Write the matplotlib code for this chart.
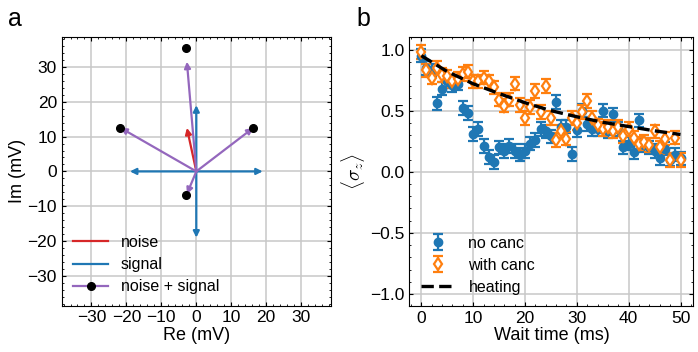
import numpy as np
import matplotlib
matplotlib.use("Agg")
import matplotlib.pyplot as plt
from matplotlib.lines import Line2D
from matplotlib.ticker import MultipleLocator

plt.rcParams['font.family'] = ['Liberation Sans', 'DejaVu Sans']
plt.rcParams['mathtext.fontset'] = 'cm'
plt.rcParams['xtick.direction'] = 'in'
plt.rcParams['ytick.direction'] = 'in'
plt.rcParams['xtick.top'] = True
plt.rcParams['ytick.right'] = True

# panel a: phasor picture (mV)
signal_re = [19, -19, 0, 0]
signal_im = [0, 0, 19, -19]
noise = (-2.7, 12.5)
sum_re = [16.3, -21.7, -2.7, -2.7]
sum_im = [12.5, 12.5, 31.5, -6.5]
meas_re = [16.2, -21.7, -3.0, -3.0]
meas_im = [12.4, 12.4, 35.4, -6.9]

# panel b: <sigma_z> vs wait time
t = np.arange(0, 51)
no_canc = [0.95, 0.85, 0.83, 0.56, 0.68, 0.74, 0.71, 0.72, 0.52, 0.48,
           0.31, 0.35, 0.21, 0.12, 0.08, 0.20, 0.17, 0.21, 0.17, 0.14,
           0.17, 0.23, 0.26, 0.35, 0.33, 0.29, 0.57, 0.37, 0.37, 0.145,
           0.34, 0.50, 0.39, 0.35, 0.35, 0.50, 0.33, 0.47, 0.35, 0.20,
           0.23, 0.16, 0.42, 0.22, 0.20, 0.17, 0.11, 0.19, 0.10, 0.14,
           0.11]
with_canc = [0.98, 0.83, 0.77, 0.85, 0.79, 0.78, 0.74, 0.76, 0.80, 0.82,
             0.74, 0.74, 0.77, 0.74, 0.69, 0.59, 0.54, 0.59, 0.72, 0.545,
             0.44, 0.53, 0.66, 0.49, 0.70, 0.44, 0.26, 0.33, 0.27, 0.44,
             0.40, 0.49, 0.58, 0.44, 0.38, 0.35, 0.37, 0.33, 0.37, 0.29,
             0.35, 0.28, 0.23, 0.245, 0.22, 0.33, 0.20, 0.27, 0.095, 0.28,
             0.095]
no_canc_err = 0.055
with_canc_err = 0.055
heat_t = [0, 5, 10, 15, 20, 25, 30, 35, 40, 45, 50]
heat_v = [0.95, 0.82, 0.72, 0.64, 0.565, 0.50, 0.45, 0.405, 0.37, 0.335, 0.305]

blue = '#1f77b4'
orange = '#ff7f0e'
red = '#d62728'
purple = '#9467bd'

fig = plt.figure(figsize=(6.98, 3.52), dpi=100)
ax1 = fig.add_axes([0.0885, 0.132, 0.3855, 0.762])
ax2 = fig.add_axes([0.5865, 0.130, 0.4070, 0.764])

def arrow(ax, x, y, c):
    ax.annotate('', xy=(x, y), xytext=(0, 0),
                arrowprops=dict(arrowstyle='-|>', color=c, lw=1.6,
                                mutation_scale=9, shrinkA=0, shrinkB=0))

for x, y in zip(signal_re, signal_im):
    arrow(ax1, x, y, blue)
arrow(ax1, noise[0], noise[1], red)
for x, y in zip(sum_re, sum_im):
    arrow(ax1, x, y, purple)
ax1.plot(meas_re, meas_im, 'o', color='k', ms=5.5, zorder=5)

handles = [Line2D([], [], color=red, lw=1.6),
           Line2D([], [], color=blue, lw=1.6),
           Line2D([], [], color=purple, lw=1.6, marker='o', mfc='k', mec='k', ms=5.5)]
ax1.legend(handles, ['noise', 'signal', 'noise + signal'], loc='lower left',
           frameon=False, fontsize=11.5, handlelength=2.2, borderaxespad=0.3,
           labelspacing=0.45)

ax1.set_xlim(-38.5, 38.5)
ax1.set_ylim(-38.5, 38.5)
ax1.xaxis.set_major_locator(MultipleLocator(10))
ax1.yaxis.set_major_locator(MultipleLocator(10))
ax1.xaxis.set_minor_locator(MultipleLocator(2))
ax1.yaxis.set_minor_locator(MultipleLocator(2))
ax1.set_xlabel('Re (mV)', fontsize=13, labelpad=1)
ax1.set_ylabel('Im (mV)', fontsize=13, labelpad=1)

e1 = ax2.errorbar(t, no_canc, yerr=no_canc_err, fmt='o', color=blue, ms=6,
                  capsize=3.5, elinewidth=1.6, capthick=1.6)
e2 = ax2.errorbar(t, with_canc, yerr=with_canc_err, fmt='d', color=orange,
                  mfc='white', mec=orange, mew=1.6, ms=6, capsize=3.5,
                  elinewidth=1.6, capthick=1.6)
h3, = ax2.plot(heat_t, heat_v, '--', color='k', lw=2.4, zorder=4)
ax2.legend([e1, e2, h3], ['no canc', 'with canc', 'heating'], loc='lower left',
           frameon=False, fontsize=11.5, handlelength=2.2, borderaxespad=0.3,
           labelspacing=0.45)

ax2.set_xlim(-2.3, 52.5)
ax2.set_ylim(-1.1, 1.1)
ax2.xaxis.set_major_locator(MultipleLocator(10))
ax2.yaxis.set_major_locator(MultipleLocator(0.5))
ax2.xaxis.set_minor_locator(MultipleLocator(2))
ax2.yaxis.set_minor_locator(MultipleLocator(0.1))
ax2.set_xlabel('Wait time (ms)', fontsize=13, labelpad=1)
ax2.set_ylabel(r'$\langle\sigma_z\rangle$', fontsize=14, labelpad=2)

for ax in (ax1, ax2):
    ax.grid(True, color='#c8c8c8', lw=1.1)
    ax.set_axisbelow(True)
    ax.tick_params(which='major', length=3, labelsize=12.5)
    ax.tick_params(which='minor', length=1.5)

fig.text(0.012, 0.925, 'a', fontsize=18)
fig.text(0.511, 0.925, 'b', fontsize=18)

fig.savefig('out.png', dpi=100)
